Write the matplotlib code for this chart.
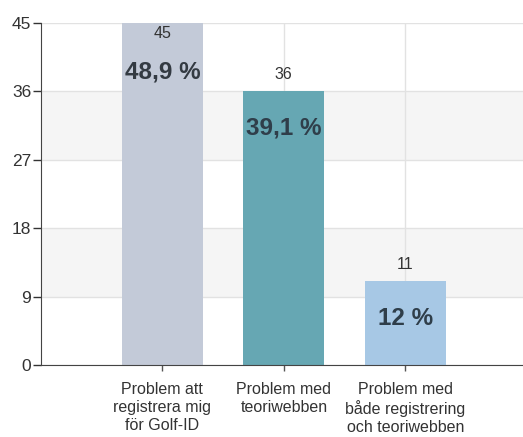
import matplotlib.pyplot as plt

# data
categories = ['Problem att\nregistrera mig\nför Golf-ID',
              'Problem med\nteoriwebben',
              'Problem med\nbåde registrering\noch teoriwebben']
counts = [45, 36, 11]
percent_labels = ['48,9 %', '39,1 %', '12 %']
bar_colors = ['#c3cad8', '#66a7b3', '#a7c8e5']
y_ticks = [0, 9, 18, 27, 36, 45]

plt.rcParams['font.family'] = ['Liberation Sans', 'DejaVu Sans']

fig = plt.figure(figsize=(5.23, 4.37), dpi=100)
ax = fig.add_axes([41 / 523, 72 / 437, 1 - 41 / 523, 342 / 437])

x = list(range(len(counts)))

# alternating light bands
for lo, hi in [(9, 18), (27, 36)]:
    ax.axhspan(lo, hi, color='#f5f5f5', zorder=0, lw=0)

ax.set_axisbelow(True)
ax.grid(True, color='#e2e2e2', linewidth=1)

ax.bar(x, counts, width=0.67, color=bar_colors, zorder=2)

ymax = 45
for xi, c, p in zip(x, counts, percent_labels):
    if c >= ymax:
        # label would fall outside the axes -> inside the bar
        ax.annotate(str(c), (xi, c), xytext=(0, -10), textcoords='offset pixels',
                    ha='center', va='center', fontsize=11.5, color='#333333', zorder=3)
        ax.annotate(p, (xi, c), xytext=(0, -49), textcoords='offset pixels',
                    ha='center', va='center', fontsize=17.5, fontweight='bold',
                    color='#333a42', zorder=3)
    else:
        ax.annotate(str(c), (xi, c), xytext=(0, 17), textcoords='offset pixels',
                    ha='center', va='center', fontsize=11.5, color='#333333', zorder=3)
        ax.annotate(p, (xi, c), xytext=(0, -37), textcoords='offset pixels',
                    ha='center', va='center', fontsize=17.5, fontweight='bold',
                    color='#2f3e4a', zorder=3)

ax.set_xlim(-1.0, 2.97)
ax.set_ylim(0, ymax)
ax.set_yticks(y_ticks)
ax.set_xticks(x)
ax.set_xticklabels(categories, fontsize=11.5, color='#333333', linespacing=1.25)
ax.tick_params(axis='y', labelsize=12.5, colors='#333333', length=6, width=1, pad=1)
ax.tick_params(axis='x', length=4, width=1, color='#555555', pad=8)

for side in ['top', 'right']:
    ax.spines[side].set_visible(False)
ax.spines['left'].set_color('#444444')
ax.spines['bottom'].set_color('#444444')

fig.savefig('out.png', dpi=100)
